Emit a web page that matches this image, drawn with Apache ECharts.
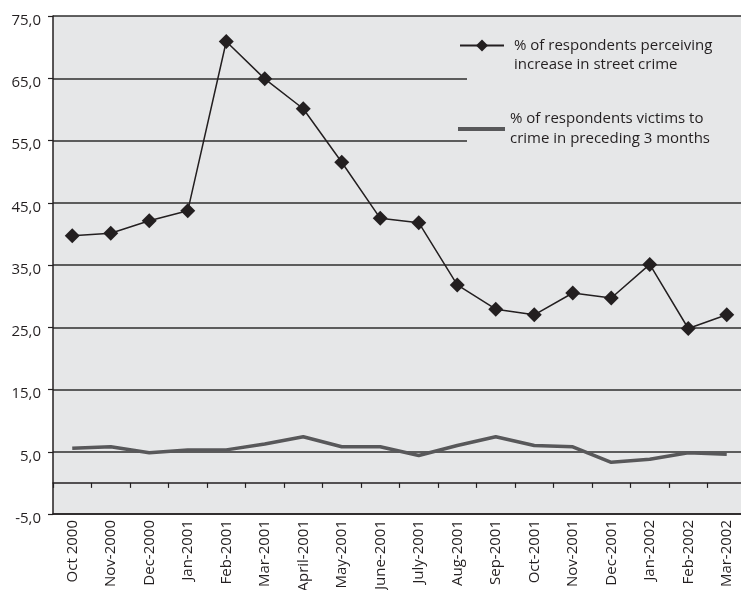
<!DOCTYPE html>
<html>
<head>
<meta charset="utf-8">
<script src="https://cdn.jsdelivr.net/npm/echarts@6/dist/echarts.min.js"></script>
<style>
html,body{margin:0;padding:0;background:#fff;overflow:hidden;}
#chart{width:741px;height:590px;}
</style>
</head>
<body>
<div id="chart"></div>
<script>
var categories = ['Oct 2000','Nov-2000','Dec-2000','Jan-2001','Feb-2001','Mar-2001','April-2001','May-2001','June-2001','July-2001','Aug-2001','Sep-2001','Oct-2001','Nov-2001','Dec-2001','Jan-2002','Feb-2002','Mar-2002'];
var perceivingIncrease = [39.7, 40.1, 42.1, 43.7, 70.9, 64.9, 60.1, 51.5, 42.5, 41.8, 31.8, 27.9, 27.0, 30.5, 29.7, 35.1, 24.8, 27.0];
var victimsOfCrime = [5.55, 5.8, 4.85, 5.3, 5.3, 6.25, 7.4, 5.8, 5.8, 4.4, 6.0, 7.4, 6.0, 5.8, 3.3, 3.8, 4.85, 4.6];
var seriesNames = ['% of respondents perceiving\nincrease in street crime', '% of respondents victims to\ncrime in preceding 3 months'];
var yMin = -5, yMax = 75, yStep = 10;

var FONT = 'Open Sans';
var TXT = '#231f20';
var BG = '#e6e7e8';

var chart = echarts.init(document.getElementById('chart'), null, {renderer: 'canvas'});
chart.setOption({
  animation: false,
  backgroundColor: '#ffffff',
  textStyle: {fontFamily: FONT, color: TXT},
  grid: {
    left: 53, top: 16, width: 693, height: 498,
    containLabel: false, outerBoundsMode: 'none',
    show: false
  },
  graphic: [{
    type: 'rect', z: -10, silent: true,
    shape: {x: 53, y: 16, width: 700, height: 498},
    style: {fill: BG}
  }, {
    type: 'rect', z: 1, silent: true,
    shape: {x: 467, y: 18, width: 280, height: 171},
    style: {fill: BG}
  }],
  legend: [{
    show: true, orient: 'vertical', left: 459, top: 17, padding: 0,
    itemWidth: 44, itemHeight: 15,
    data: [seriesNames[0]],
    formatter: function (name) { return '\n' + name; },
    textStyle: {fontFamily: FONT, fontSize: 15, color: TXT, lineHeight: 19, padding: [0, 0, 0, 5]}
  }, {
    show: true, orient: 'vertical', left: 458, top: 109, padding: 0,
    itemWidth: 47, itemHeight: 4,
    data: [{name: seriesNames[1], icon: 'rect'}],
    textStyle: {fontFamily: FONT, fontSize: 15, color: TXT, lineHeight: 20}
  }],
  xAxis: [{
    type: 'category', data: categories, boundaryGap: true, position: 'bottom',
    axisLine: {show: true, onZero: false, lineStyle: {color: TXT, width: 1.5}},
    axisTick: {show: false},
    axisLabel: {rotate: 90, margin: 6, fontFamily: FONT, fontSize: 15, color: TXT, interval: 0},
    splitLine: {show: false}
  }, {
    type: 'category', data: categories, boundaryGap: true, position: 'bottom',
    axisLine: {show: true, onZero: true, lineStyle: {color: TXT, width: 1.5}},
    axisTick: {show: true, inside: false, length: 5, lineStyle: {color: TXT, width: 1.2}, interval: 0},
    axisLabel: {show: false},
    splitLine: {show: false}
  }],
  yAxis: {
    type: 'value', min: yMin, max: yMax, interval: yStep,
    axisLine: {show: true, lineStyle: {color: TXT, width: 1.5}},
    axisTick: {show: true, length: 5, lineStyle: {color: TXT, width: 1.2}},
    axisLabel: {
      margin: 12, fontFamily: FONT, fontSize: 15, color: TXT,
      verticalAlign: 'top', lineHeight: 9,
      formatter: function (v) { return v.toFixed(1).replace('.', ','); }
    },
    splitLine: {show: true, lineStyle: {color: '#2e2e2e', width: 1.5}}
  },
  series: [{
    name: seriesNames[0], type: 'line', data: perceivingIncrease,
    symbol: 'diamond', symbolSize: 15,
    lineStyle: {color: TXT, width: 1.5},
    itemStyle: {color: TXT},
    z: 3
  }, {
    name: seriesNames[1], type: 'line', data: victimsOfCrime,
    symbol: 'none',
    lineStyle: {color: '#58585a', width: 3.5},
    itemStyle: {color: '#58585a'},
    z: 2
  }]
});
</script>
</body>
</html>
